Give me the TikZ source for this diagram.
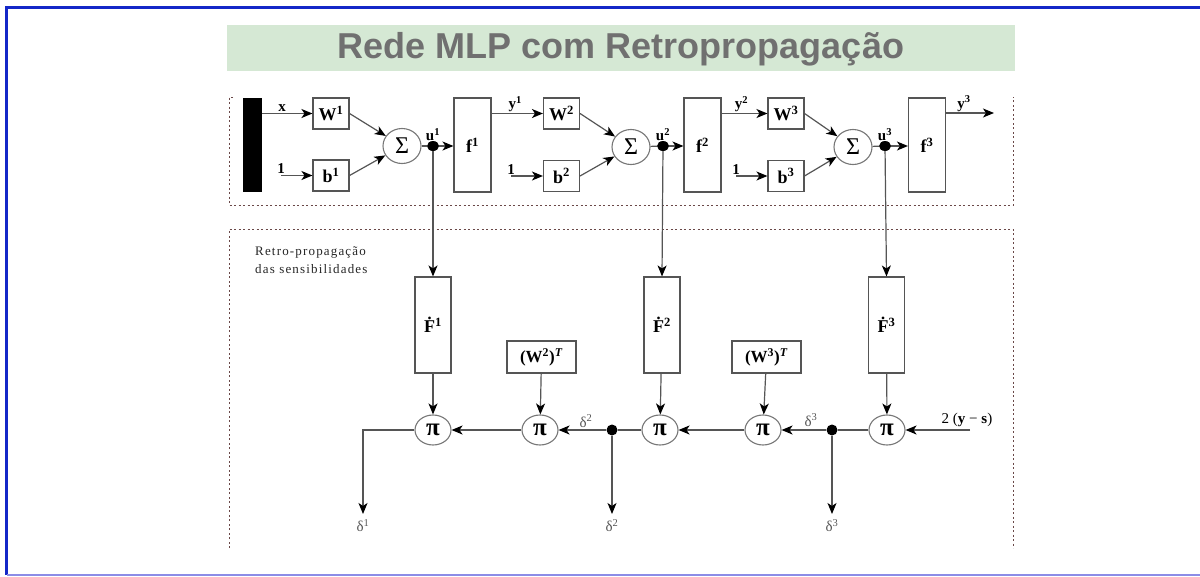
\documentclass[tikz,border=0pt]{standalone}
\usepackage{fontspec}
\setmainfont{Liberation Serif}
\newfontfamily\titlefont{Liberation Sans}
\newfontfamily\spacedfont[LetterSpace=9]{Liberation Serif}
\usetikzlibrary{arrows.meta,shapes.geometric}
\definecolor{lncol}{HTML}{555555}
\definecolor{framecol}{HTML}{1428C8}
\definecolor{framelow}{HTML}{8C8CE6}
\definecolor{bandcol}{HTML}{D5E8D4}
\definecolor{titlecol}{HTML}{707070}
\definecolor{dotcol}{HTML}{6A4848}
\begin{document}
\begin{tikzpicture}[x=1pt,y=-1pt,
  ln/.style={draw=lncol,line width=1.2pt},
  arr/.style={ln,-{Stealth[length=11pt,width=9pt,inset=3pt,color=black]}},
  box/.style={draw=lncol,line width=1.1pt,fill=white,inner sep=0pt},
  wbox/.style={box,minimum width=36pt,minimum height=31pt,font=\fontsize{18}{20}\selectfont\bfseries},
  fbox/.style={box,minimum width=37pt,minimum height=94pt,font=\fontsize{18}{20}\selectfont\bfseries},
  dfbox/.style={box,minimum width=36pt,minimum height=96pt,font=\fontsize{18}{20}\selectfont\bfseries},
  tbox/.style={box,minimum width=69pt,minimum height=32pt,font=\fontsize{17}{19}\selectfont\bfseries},
  sumn/.style={ellipse,draw=lncol!80,line width=1.1pt,fill=white,minimum width=38pt,minimum height=35pt,inner sep=0pt,font=\fontsize{24}{26}\selectfont},
  pin/.style={ellipse,draw=lncol!80,line width=1.1pt,fill=white,minimum width=36pt,minimum height=30pt,inner sep=0pt,font=\fontsize{25}{27}\selectfont\bfseries},
  jdot/.style={ellipse,fill=black,minimum width=12pt,minimum height=10pt,inner sep=0pt},
  lab/.style={font=\fontsize{15}{17}\selectfont\bfseries,inner sep=1pt},
  dlab/.style={font=\fontsize{15}{17}\selectfont,text=lncol,inner sep=1pt},
  sep/.style={draw=dotcol,line width=0.8pt,dash pattern=on 2pt off 2.5pt}
]
\useasboundingbox (0,0) rectangle (1200,576);
\clip (0,0) rectangle (1200,576);
% frame
\draw[framecol,line width=2.6pt] (1210,7.5) -- (6.5,7.5) -- (6.5,575);
\draw[framelow,line width=2pt] (6.5,575) -- (1210,575);
% title band
\node[fill=bandcol,minimum width=788pt,minimum height=46pt,inner sep=0pt] (band) at (621,48) {};
\node[font=\titlefont\fontsize{36}{38}\selectfont\bfseries,text=titlecol] (title) at (621,49) {Rede MLP com Retropropagação};
% region borders
\draw[sep] (233,97) -- (229,97) -- (229,205) -- (1013,205) -- (1013,97);
\draw[sep] (229,548) -- (229,229) -- (1013,229) -- (1013,548);
% ---------- forward row ----------
\node[fill=black,minimum width=19pt,minimum height=94pt,inner sep=0pt] (bar) at (252,145) {};
\node[wbox] (W1) at (331,113.5) {W\textsuperscript{1}};
\node[wbox] (b1) at (331,175.5) {b\textsuperscript{1}};
\node[sumn] (S1) at (402,146) {Σ};
\node[jdot] (u1) at (433,146) {};
\node[fbox] (f1) at (472.5,145) {f\textsuperscript{1}};
\node[wbox] (W2) at (561.5,113.5) {W\textsuperscript{2}};
\node[wbox] (b2) at (561.5,176) {b\textsuperscript{2}};
\node[sumn] (S2) at (631,147) {Σ};
\node[jdot] (u2) at (663,146) {};
\node[fbox] (f2) at (702.5,145) {f\textsuperscript{2}};
\node[wbox] (W3) at (786,113.5) {W\textsuperscript{3}};
\node[wbox] (b3) at (786,176) {b\textsuperscript{3}};
\node[sumn] (S3) at (853,147) {Σ};
\node[jdot] (u3) at (885,146) {};
\node[fbox] (f3) at (927,145) {f\textsuperscript{3}};
\coordinate (i1) at (281,175.5);
\coordinate (i2) at (511,176);
\coordinate (i3) at (736,176);
\coordinate (yout) at (994,113);
% forward connectors
\draw[arr] (bar.east |- W1.west) -- (W1.west) node[lab,midway,above,xshift=-5pt] (xl) {x};
\draw[arr] (i1) node[lab,above] {1} -- (b1.west);
\draw[arr] (i2) node[lab,above] {1} -- (b2.west);
\draw[arr] (i3) node[lab,above] {1} -- (b3.west);
\draw[arr] (W1.east) -- (S1);
\draw[arr] (b1.east) -- (S1);
\draw[arr] (W2.east) -- (S2);
\draw[arr] (b2.east) -- (S2);
\draw[arr] (W3.east) -- (S3);
\draw[arr] (b3.east) -- (S3);
\draw[ln] (S1) -- (u1);
\draw[ln] (S2) -- (u2);
\draw[ln] (S3) -- (u3);
\draw[arr] (u1) -- (f1.west |- u1) ;
\draw[arr] (u2) -- (f2.west |- u2) ;
\draw[arr] (u3) -- (f3.west |- u3) ;
\node[lab,above=4pt] at (u1) {u\textsuperscript{1}};
\node[lab,above=4pt] at (u2) {u\textsuperscript{2}};
\node[lab,above=4pt] at (u3) {u\textsuperscript{3}};
\draw[arr] (f1.east |- W2.west) -- (W2.west) node[lab,midway,above,xshift=-2pt] {y\textsuperscript{1}};
\draw[arr] (f2.east |- W3.west) -- (W3.west) node[lab,midway,above,xshift=-3pt] {y\textsuperscript{2}};
\draw[arr] (f3.east |- yout) -- (yout) node[lab,midway,above,xshift=-6pt] {y\textsuperscript{3}};
% ---------- backward row ----------
\node[align=left,anchor=north west,font=\spacedfont\fontsize{13}{18}\selectfont,text=black!85,inner sep=0pt] (rtxt) at (255,247) {Retro-propagação\\das sensibilidades};
\node[dfbox] (F1) at (433,325) {\.{F}\textsuperscript{1}};
\node[dfbox] (F2) at (662,325) {\.{F}\textsuperscript{2}};
\node[dfbox] (F3) at (886.5,325) {\.{F}\textsuperscript{3}};
\node[tbox] (T2) at (541.5,357) {(W\textsuperscript{2})\textsuperscript{\textit{T}}};
\node[tbox] (T3) at (766.5,357) {(W\textsuperscript{3})\textsuperscript{\textit{T}}};
\node[pin] (P1) at (433,430) {π};
\node[pin] (P2) at (540,430) {π};
\node[pin] (P3) at (660,430) {π};
\node[pin] (P4) at (763,430) {π};
\node[pin] (P5) at (887,430) {π};
\node[jdot,minimum width=11pt,minimum height=11pt] (j2) at (612,430) {};
\node[jdot,minimum width=11pt,minimum height=11pt] (j3) at (832,430) {};
\coordinate (inp) at (970,430);
\coordinate (c1) at (363,430);
\coordinate (o1) at (363,514);
\coordinate (o2) at (612,514);
\coordinate (o3) at (832,514);
% vertical feeds
\draw[arr] (u1) -- (F1.north);
\draw[arr] (u2) -- (F2.north);
\draw[arr] (u3) -- (F3.north);
\draw[arr] (F1) -- (P1);
\draw[arr] (F2) -- (P3);
\draw[arr] (F3) -- (P5);
\draw[arr] (T2) -- (P2);
\draw[arr] (T3) -- (P4);
% horizontal chain
\draw[arr] (inp) -- (P5);
\node[font=\fontsize{15}{17}\selectfont,anchor=south,inner sep=1pt] (ysl) at (967,428) {2 (\textbf{y} − \textbf{s})};
\draw[ln] (P5) -- (j3);
\draw[arr] (j3) -- (P4);
\node[dlab] (d3a) at (811,420) {δ\textsuperscript{3}};
\draw[arr] (P4) -- (P3);
\draw[ln] (P3) -- (j2);
\draw[arr] (j2) -- (P2);
\node[dlab] (d2a) at (586,421) {δ\textsuperscript{2}};
\draw[arr] (P2) -- (P1);
\draw[arr] (P1.west) -- (c1) -- (o1);
\draw[arr] (j2) -- (o2);
\draw[arr] (j3) -- (o3);
\node[dlab,below=4pt] (d1b) at (o1) {δ\textsuperscript{1}};
\node[dlab,below=4pt] (d2b) at (o2) {δ\textsuperscript{2}};
\node[dlab,below=4pt] (d3b) at (o3) {δ\textsuperscript{3}};
\end{tikzpicture}
\end{document}
